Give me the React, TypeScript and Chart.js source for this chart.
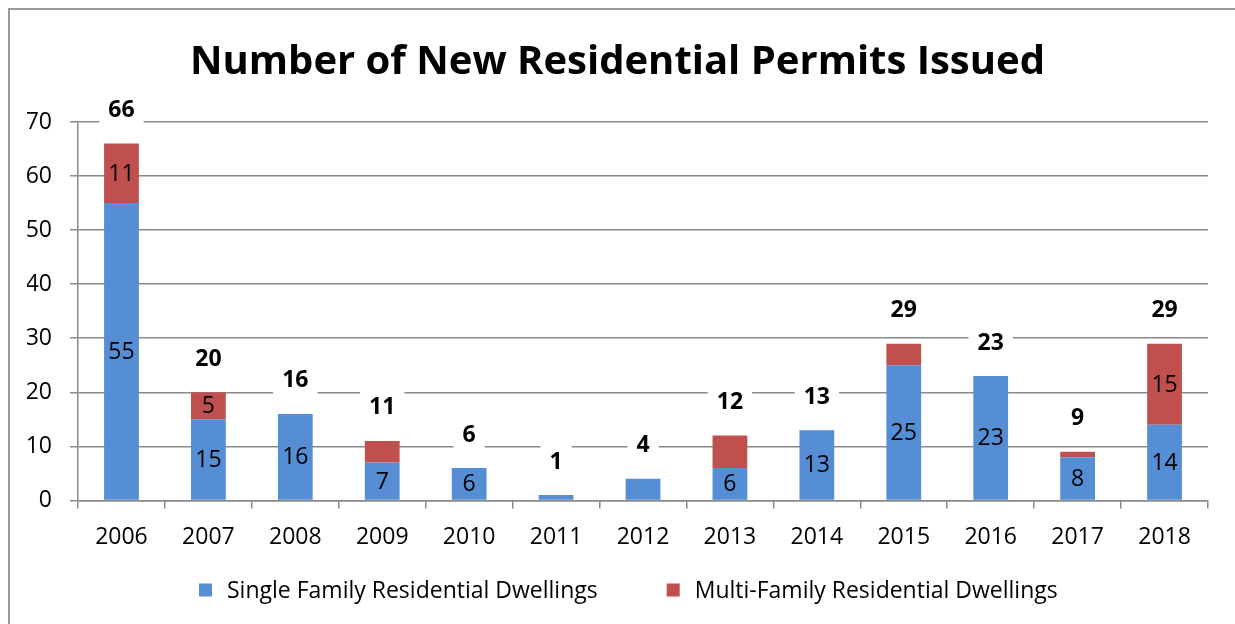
import React, { useEffect, useRef } from "react";
import { Chart, registerables } from "chart.js";

Chart.register(...registerables);

const years = ["2006", "2007", "2008", "2009", "2010", "2011", "2012", "2013", "2014", "2015", "2016", "2017", "2018"];
const singleFamily = [55, 15, 16, 7, 6, 1, 4, 6, 13, 25, 23, 8, 14];
const multiFamily = [11, 5, 0, 4, 0, 0, 0, 6, 0, 4, 0, 1, 15];
const singleLabelShown = [true, true, true, true, true, false, false, true, true, true, true, true, true];
const multiLabelShown = [true, true, false, false, false, false, false, false, false, false, false, false, true];
const yTicks = [0, 10, 20, 30, 40, 50, 60, 70];
const seriesNames = ["Single Family Residential Dwellings", "Multi-Family Residential Dwellings"];
const seriesColors = ["#558ED5", "#C0504D"];

const FONT = '"Open Sans", "DejaVu Sans", sans-serif';

const labelPlugin = {
  id: "barLabels",
  afterDatasetsDraw(chart: any) {
    const ctx = chart.ctx;
    ctx.save();
    ctx.textAlign = "center";
    ctx.textBaseline = "middle";
    ctx.fillStyle = "#000";
    ctx.font = `23px ${FONT}`;
    chart.data.datasets.forEach((ds: any, di: number) => {
      const meta = chart.getDatasetMeta(di);
      const shown = di === 0 ? singleLabelShown : multiLabelShown;
      meta.data.forEach((bar: any, i: number) => {
        if (!shown[i]) return;
        const p = bar.getProps(["x", "y", "base"], true);
        ctx.fillText(String(ds.data[i]), p.x, (p.y + p.base) / 2 + 1);
      });
    });
    const xs = chart.scales.x;
    const ys = chart.scales.y;
    ctx.font = `bold 23px ${FONT}`;
    years.forEach((_, i) => {
      const total = singleFamily[i] + multiFamily[i];
      const x = xs.getPixelForValue(i);
      const y = ys.getPixelForValue(total) - 34;
      const w = ctx.measureText(String(total)).width + 18;
      ctx.fillStyle = "#fff";
      ctx.fillRect(x - w / 2, y - 16, w, 32);
      ctx.fillStyle = "#000";
      ctx.fillText(String(total), x, y + 1);
    });
    ctx.restore();
  },
};

const legendPlugin = {
  id: "customLegend",
  afterDraw(chart: any) {
    const ctx = chart.ctx;
    ctx.save();
    ctx.font = `23px ${FONT}`;
    ctx.textBaseline = "middle";
    const box = 13;
    const gap = 15;
    const spacing = 69;
    const widths = seriesNames.map((n) => ctx.measureText(n).width);
    let x = 189;
    const y = 580;
    seriesNames.forEach((n, i) => {
      ctx.fillStyle = seriesColors[i];
      ctx.fillRect(x, y - box / 2, box, box);
      ctx.fillStyle = "#000";
      ctx.textAlign = "left";
      ctx.fillText(n, x + box + gap, y + 1);
      x += box + gap + widths[i] + spacing;
    });
    ctx.restore();
  },
};

function App() {
  const canvasRef = useRef<HTMLCanvasElement | null>(null);

  useEffect(() => {
    if (!canvasRef.current) return;
    document.documentElement.style.overflow = "hidden";
    const gridColor = "#8a8a8a";
    const chart = new Chart(canvasRef.current, {
      type: "bar",
      data: {
        labels: years,
        datasets: [
          {
            label: seriesNames[0],
            data: singleFamily,
            backgroundColor: seriesColors[0],
            borderWidth: 0,
            barPercentage: 0.4,
            categoryPercentage: 1,
          },
          {
            label: seriesNames[1],
            data: multiFamily,
            backgroundColor: seriesColors[1],
            borderWidth: 0,
            barPercentage: 0.4,
            categoryPercentage: 1,
          },
        ],
      },
      options: {
        animation: false,
        responsive: false,
        maintainAspectRatio: false,
        layout: { padding: { left: 17, right: 27, top: 0, bottom: 58 } },
        plugins: {
          legend: { display: false },
          tooltip: { enabled: false },
          title: {
            display: true,
            text: "Number of New Residential Permits Issued",
            color: "#000",
            font: { family: FONT, size: 40, weight: "bold" },
            padding: { top: 29, bottom: 35 },
          },
        },
        scales: {
          x: {
            stacked: true,
            grid: {
              display: true,
              drawOnChartArea: false,
              drawTicks: true,
              tickLength: 8,
              color: gridColor,
              lineWidth: 1.5,
              offset: true,
            },
            border: { display: true, color: gridColor, width: 1.5 },
            ticks: { color: "#000", font: { family: FONT, size: 23 }, padding: 15, maxRotation: 0 },
          },
          y: {
            stacked: true,
            min: 0,
            max: 70,
            afterBuildTicks: (axis: any) => {
              axis.ticks = yTicks.map((v) => ({ value: v }));
            },
            afterFit: (axis: any) => {
              axis.width = 51;
            },
            grid: { color: gridColor, lineWidth: 1.5, tickLength: 8, drawTicks: true },
            border: { display: true, color: gridColor, width: 1.5 },
            ticks: { color: "#000", font: { family: FONT, size: 23 }, padding: 18 },
          },
        },
      },
      plugins: [labelPlugin, legendPlugin],
    });
    return () => chart.destroy();
  }, []);

  return (
    <div
      style={{
        position: "fixed",
        left: 8,
        top: 8,
        width: 1260,
        height: 640,
        borderTop: "2px solid #9a9a9a",
        borderLeft: "2px solid #9a9a9a",
        boxSizing: "border-box",
        background: "#fff",
      }}
    >
      <canvas ref={canvasRef} width={1225} height={614} style={{ display: "block", width: 1225, height: 614 }} />
    </div>
  );
}

export default App;
